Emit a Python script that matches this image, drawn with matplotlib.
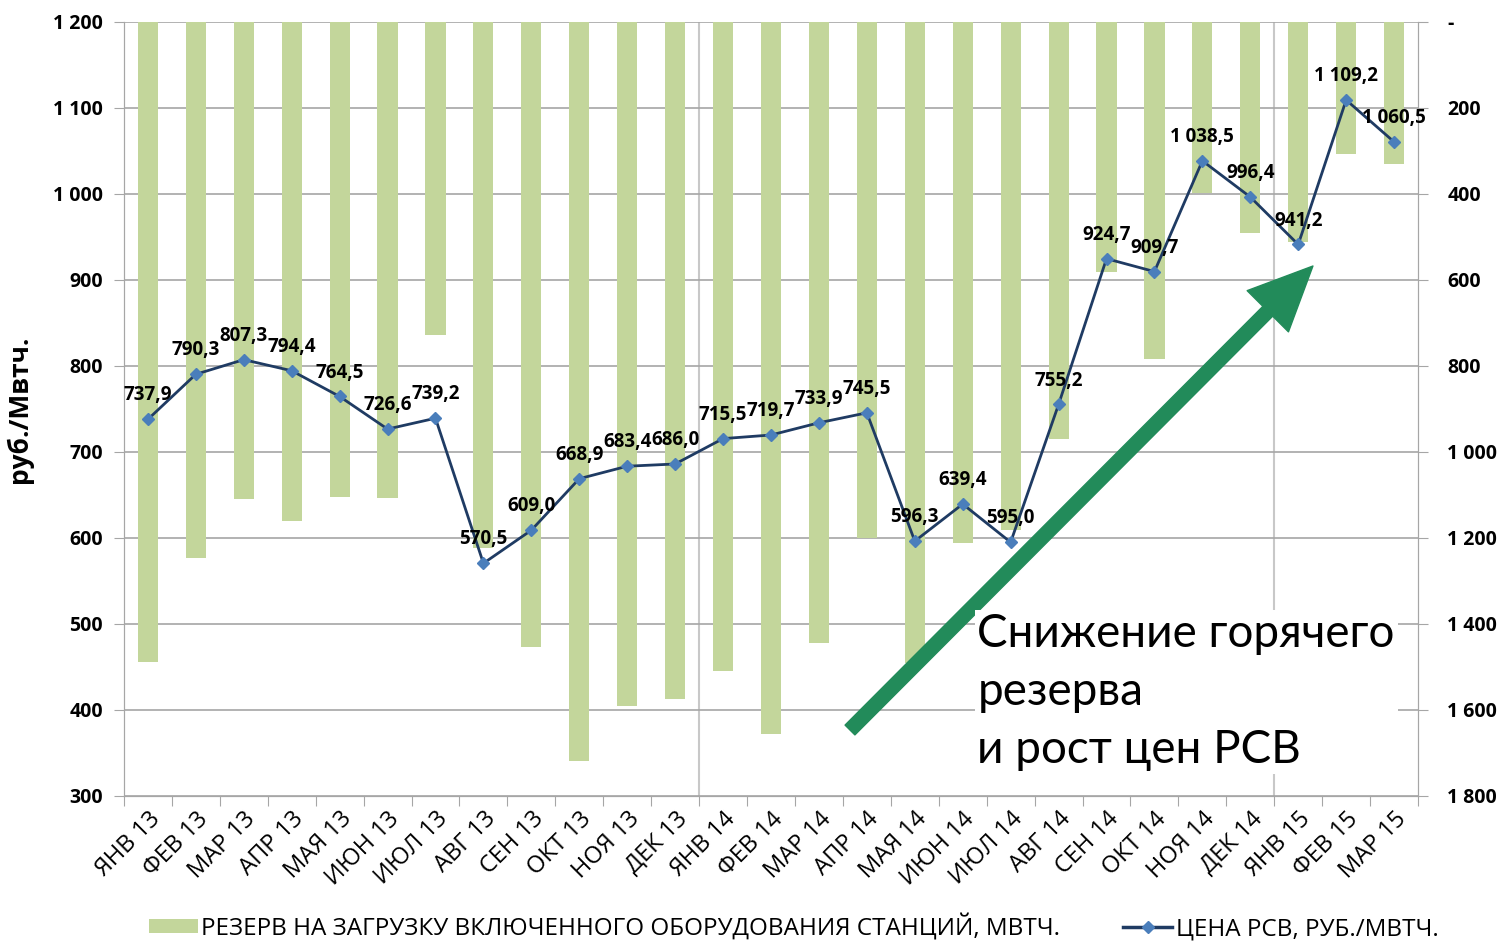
import matplotlib
matplotlib.use('Agg')
import matplotlib.pyplot as plt
from matplotlib.ticker import FuncFormatter, MultipleLocator
from matplotlib.patches import Patch
from matplotlib.lines import Line2D

months = ['ЯНВ 13', 'ФЕВ 13', 'МАР 13', 'АПР 13', 'МАЯ 13', 'ИЮН 13', 'ИЮЛ 13', 'АВГ 13',
          'СЕН 13', 'ОКТ 13', 'НОЯ 13', 'ДЕК 13', 'ЯНВ 14', 'ФЕВ 14', 'МАР 14', 'АПР 14',
          'МАЯ 14', 'ИЮН 14', 'ИЮЛ 14', 'АВГ 14', 'СЕН 14', 'ОКТ 14', 'НОЯ 14', 'ДЕК 14',
          'ЯНВ 15', 'ФЕВ 15', 'МАР 15']
# reserve, MWh (right axis, inverted)
reserve = [1488, 1246, 1109, 1160, 1105, 1107, 728, 1223, 1453, 1719, 1591, 1574, 1509,
           1656, 1444, 1200, 1490, 1212, 1181, 970, 581, 784, 398, 491, 512, 307, 330]
# price RSV, rub/MWh (left axis)
price = [737.9, 790.3, 807.3, 794.4, 764.5, 726.6, 739.2, 570.5, 609.0, 668.9, 683.4, 686.0,
         715.5, 719.7, 733.9, 745.5, 596.3, 639.4, 595.0, 755.2, 924.7, 909.7, 1038.5, 996.4,
         941.2, 1109.2, 1060.5]

bar_label = 'РЕЗЕРВ НА ЗАГРУЗКУ ВКЛЮЧЕННОГО ОБОРУДОВАНИЯ СТАНЦИЙ, МВТЧ.'
line_label = 'ЦЕНА РСВ, РУБ./МВТЧ.'
note = 'Снижение горячего\nрезерва\nи рост цен РСВ'

BAR_COL = '#c3d69b'
LINE_COL = '#1f3b63'
MARK_COL = '#4a7ebb'
GRID_COL = '#a6a6a6'


def ru_num(v, dec=0):
    s = f'{v:,.{dec}f}'
    return s.replace(',', ' ').replace('.', ',')


def main():
    plt.rcParams['font.family'] = ['Open Sans', 'DejaVu Sans']

    fig = plt.figure(figsize=(15.06, 9.44), dpi=100)
    ax = fig.add_axes([0.0823, 0.1568, 0.8593, 0.82])
    x = list(range(len(months)))

    # bars on the reserve axis (right side, inverted)
    ax.bar(x, reserve, width=0.42, color=BAR_COL, zorder=2)
    ax.set_ylim(1800, 0)
    ax.set_xlim(-0.5, len(months) - 0.5)
    ax.yaxis.set_major_locator(MultipleLocator(200))
    ax.yaxis.set_major_formatter(FuncFormatter(lambda v, p: '-' if v == 0 else ru_num(v)))
    ax.grid(axis='y', color=GRID_COL, lw=1.2, zorder=0)
    for xv in [11.5, 23.5]:
        ax.axvline(xv, color='#c8c8c8', lw=1.5, zorder=1)

    ax2 = ax.twinx()
    ax.yaxis.tick_right()
    ax2.yaxis.tick_left()
    ax2.yaxis.set_label_position('left')
    ax2.plot(x, price, color=LINE_COL, lw=2, marker='D', markersize=6,
             markerfacecolor=MARK_COL, markeredgecolor=MARK_COL, zorder=4)
    ax2.set_ylim(300, 1200)
    ax2.yaxis.set_major_locator(MultipleLocator(100))
    ax2.yaxis.set_major_formatter(FuncFormatter(lambda v, p: ru_num(v)))
    for xi, v in zip(x, price):
        ax2.annotate(ru_num(v, 1), (xi, v), xytext=(0, 10), textcoords='offset points',
                     ha='center', va='bottom', fontsize=13.5, fontweight='bold', zorder=5)
    ax2.set_ylabel('руб./Мвтч.', fontsize=19, fontweight='bold')
    ax2.yaxis.set_label_coords(-0.07, 0.5)

    # x axis: category ticks at boundaries, labels at centres
    ax.set_xticks([i - 0.5 for i in range(len(months) + 1)])
    ax.set_xticklabels([])
    ax.set_xticks(x, minor=True)
    ax.set_xticklabels(months, minor=True, rotation=45, ha='right', rotation_mode='anchor',
                       fontsize=17)
    ax.tick_params(axis='x', which='minor', length=0, pad=8)
    ax.tick_params(axis='x', which='major', length=7, color=GRID_COL)

    for a in (ax, ax2):
        for s in a.spines.values():
            s.set_color(GRID_COL)
        a.spines['top'].set_visible(False)
    ax.tick_params(axis='y', length=7, color=GRID_COL, labelsize=14, pad=14)
    ax2.tick_params(axis='y', length=7, color=GRID_COL, labelsize=14, pad=8)
    for t in ax.get_yticklabels() + ax2.get_yticklabels():
        t.set_fontweight('bold')

    # arrow and note
    ax2.annotate('', xy=(0.8718, 0.7182), xytext=(0.5644, 0.2267),
                 xycoords='figure fraction', textcoords='figure fraction',
                 arrowprops=dict(arrowstyle='simple,head_length=4.6,head_width=4.2,tail_width=1.0',
                                 mutation_scale=10, color='#228b5a', shrinkA=0, shrinkB=0),
                 zorder=6)
    fig.text(0.649, 0.351, note, fontsize=33, family=['Lato', 'DejaVu Sans'],
             linespacing=1.48, va='top', ha='left', zorder=7,
             bbox=dict(facecolor='white', edgecolor='none', pad=2))

    handles = [Patch(facecolor=BAR_COL, edgecolor='none'),
               Line2D([], [], color=LINE_COL, lw=2.5, marker='D', markersize=6,
                      markerfacecolor=MARK_COL, markeredgecolor=MARK_COL)]
    fig.legend(handles, [bar_label, line_label], loc='lower center', ncol=2,
               bbox_to_anchor=(0.527, -0.02), frameon=False, fontsize=17.5,
               columnspacing=2.6, handlelength=2.0, handleheight=0.5, handletextpad=0.15)

    fig.savefig('out.png', dpi=100)


if __name__ == '__main__':
    main()
